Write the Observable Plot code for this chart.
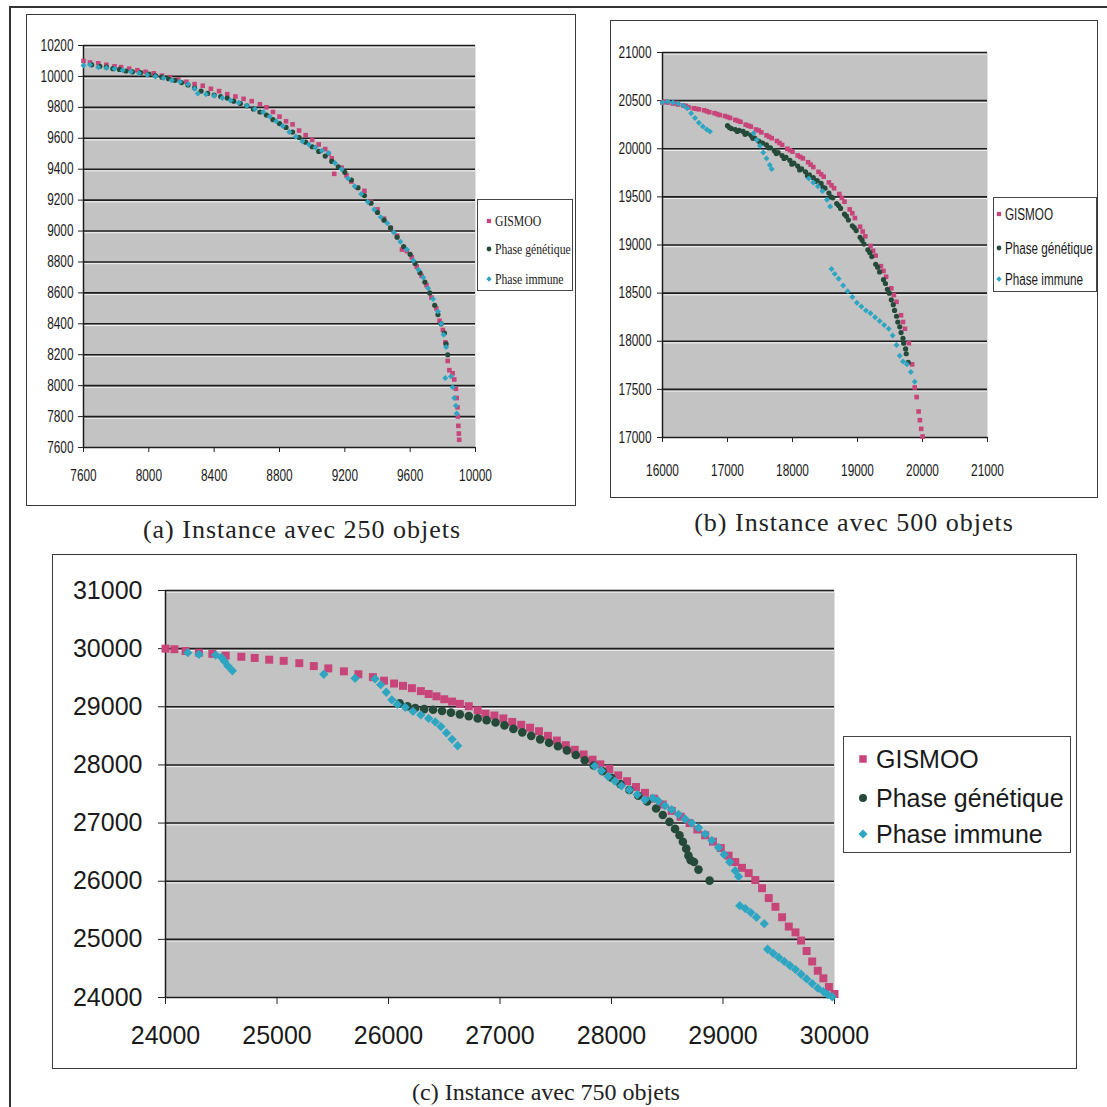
<!DOCTYPE html>
<html><head><meta charset="utf-8">
<script src="https://cdn.jsdelivr.net/npm/d3@7"></script>
<script src="https://cdn.jsdelivr.net/npm/@observablehq/plot@0.6"></script>
<style>
body{margin:0;background:#fff;width:1107px;height:1107px;position:relative;overflow:hidden;}
.frame{position:absolute;left:9px;top:6px;width:1300px;height:1300px;border-left:2px solid #333;border-top:2px solid #333;}
.box{position:absolute;border:1.5px solid #3a3a3a;box-sizing:border-box;}
.plotwrap{position:absolute;}
.legend{position:absolute;border:1px solid #444;box-sizing:border-box;background:#fff;}
.item{position:absolute;left:0;right:0;white-space:nowrap;}
.item svg{position:absolute;}
.item span{position:absolute;display:inline-block;transform-origin:left center;color:#1a1a1a;}
.cap{position:absolute;text-align:center;white-space:nowrap;font-family:"Liberation Serif","Times New Roman",serif;color:#222;}
</style></head><body>
<div class="frame"></div>
<div id="root"></div>
<script>
// ---------- data ----------
const seriesNames = ["GISMOO", "Phase génétique", "Phase immune"];
const seriesColors = ["#c8457a", "#254a3a", "#2ea6c2"];
const seriesSymbols = [d3.symbolSquare, d3.symbolCircle, d3.symbolDiamond2];
const captions = ["(a) Instance avec 250 objets", "(b) Instance avec 500 objets", "(c) Instance avec 750 objets"];

const aXTicks = [7600, 8000, 8400, 8800, 9200, 9600, 10000];
const aYTicks = [7600, 7800, 8000, 8200, 8400, 8600, 8800, 9000, 9200, 9400, 9600, 9800, 10000, 10200];
const bXTicks = [16000, 17000, 18000, 19000, 20000, 21000];
const bYTicks = [17000, 17500, 18000, 18500, 19000, 19500, 20000, 20500, 21000];
const cXTicks = [24000, 25000, 26000, 27000, 28000, 29000, 30000];
const cYTicks = [24000, 25000, 26000, 27000, 28000, 29000, 30000, 31000];

const aGismoo = [[7600,10100],[7640,10090],[7690,10085],[7740,10075],[7790,10065],[7830,10060],[7880,10050],[7930,10040],[7980,10030],[8030,10020],[8080,10005],[8130,9995],[8180,9980],[8230,9965],[8280,9950],[8330,9940],[8380,9920],[8430,9905],[8480,9885],[8530,9870],[8580,9855],[8630,9840],[8680,9820],[8720,9800],[8760,9770],[8800,9740],[8840,9710],[8880,9690],[8920,9650],[8960,9620],[9000,9590],[9040,9560],[9080,9530],[9100,9500],[9120,9470],[9135,9370],[9180,9410],[9210,9360],[9240,9320],[9280,9280],[9320,9260],[9360,9190],[9400,9140],[9440,9080],[9480,9020],[9520,8970],[9550,8880],[9580,8870],[9610,8830],[9640,8770],[9670,8710],[9700,8650],[9730,8570],[9760,8500],[9780,8420],[9800,8360],[9815,8280],[9830,8160],[9840,8100],[9860,8080],[9870,8040],[9880,7980],[9885,7920],[9890,7860],[9892,7800],[9895,7740],[9898,7690],[9900,7650]];
const aGenetique = [[7650,10075],[7700,10065],[7740,10060],[7780,10050],[7820,10045],[7860,10035],[7900,10030],[7950,10025],[8000,10015],[8040,10005],[8080,9995],[8120,9985],[8160,9975],[8200,9960],[8240,9945],[8280,9925],[8320,9905],[8360,9890],[8400,9880],[8440,9870],[8480,9860],[8520,9840],[8560,9825],[8600,9810],[8640,9790],[8680,9770],[8720,9750],[8760,9720],[8800,9695],[8840,9670],[8880,9640],[8920,9605],[8960,9575],[9000,9545],[9040,9515],[9080,9485],[9120,9450],[9160,9415],[9200,9380],[9240,9330],[9280,9280],[9320,9230],[9360,9180],[9400,9120],[9440,9070],[9480,9020],[9520,8960],[9560,8900],[9600,8850],[9630,8790],[9660,8730],[9690,8670],[9720,8600],[9750,8520],[9770,8460],[9790,8400],[9810,8340],[9820,8270],[9830,8200]];
const aImmune = [[7600,10070],[7640,10075],[7690,10060],[7740,10055],[7790,10050],[7840,10040],[7890,10030],[7940,10020],[7990,10010],[8040,10000],[8090,9990],[8140,9975],[8190,9965],[8240,9950],[8280,9920],[8300,9890],[8350,9885],[8400,9875],[8450,9860],[8500,9845],[8550,9830],[8600,9810],[8650,9790],[8700,9770],[8740,9740],[8780,9710],[8820,9680],[8860,9640],[8900,9610],[8940,9580],[8980,9560],[9020,9540],[9060,9520],[9100,9505],[9140,9440],[9180,9400],[9220,9340],[9260,9290],[9300,9240],[9340,9190],[9380,9140],[9420,9090],[9460,9050],[9500,8990],[9540,8930],[9580,8880],[9620,8810],[9650,8750],[9680,8700],[9710,8630],[9740,8560],[9770,8480],[9790,8400],[9805,8330],[9820,8250],[9815,8050],[9850,8060],[9860,7990],[9870,7920],[9880,7870],[9885,7820]];

const bGismoo = [[16000,20480],[16040,20490],[16080,20480],[16160,20470],[16200,20475],[16240,20460],[16320,20450],[16360,20445],[16400,20430],[16480,20420],[16520,20415],[16560,20410],[16640,20400],[16680,20390],[16720,20380],[16800,20370],[16840,20360],[16880,20350],[16960,20340],[17000,20330],[17040,20320],[17120,20300],[17160,20290],[17200,20280],[17280,20250],[17320,20240],[17360,20230],[17440,20200],[17480,20190],[17520,20170],[17600,20140],[17640,20125],[17680,20110],[17760,20080],[17800,20060],[17840,20040],[17920,20000],[17960,19985],[18000,19970],[18080,19930],[18120,19915],[18160,19900],[18240,19860],[18280,19835],[18320,19810],[18400,19760],[18440,19735],[18480,19710],[18560,19650],[18600,19620],[18640,19590],[18720,19530],[18760,19490],[18800,19450],[18880,19370],[18920,19330],[18960,19280],[19040,19190],[19080,19140],[19120,19090],[19200,18990],[19240,18940],[19280,18890],[19360,18780],[19400,18730],[19440,18670],[19520,18550],[19560,18480],[19600,18410],[19670,18270],[19700,18200],[19730,18130],[19790,17980],[19840,17760],[19880,17520],[19910,17420],[19940,17270],[19960,17180],[19980,17090],[20000,17010]];
const bGenetique = [[17000,20240],[17030,20220],[17060,20210],[17120,20200],[17150,20180],[17180,20190],[17240,20180],[17270,20150],[17300,20160],[17360,20140],[17390,20110],[17420,20110],[17480,20080],[17510,20060],[17540,20060],[17600,20040],[17630,20010],[17660,20010],[17720,19980],[17750,19950],[17780,19960],[17840,19930],[17870,19900],[17900,19910],[17960,19880],[17990,19840],[18020,19850],[18080,19820],[18110,19780],[18140,19790],[18200,19760],[18230,19720],[18260,19730],[18320,19700],[18350,19660],[18380,19670],[18440,19640],[18470,19600],[18500,19590],[18560,19540],[18590,19500],[18620,19490],[18680,19430],[18710,19410],[18740,19380],[18800,19320],[18830,19300],[18860,19260],[18920,19200],[18950,19180],[18980,19150],[19040,19080],[19070,19050],[19100,19010],[19160,18950],[19190,18920],[19220,18880],[19280,18800],[19310,18770],[19340,18720],[19400,18640],[19430,18600],[19460,18540],[19490,18500],[19520,18430],[19550,18380],[19570,18320],[19600,18260],[19620,18200],[19650,18150],[19670,18090],[19700,18030],[19710,17980],[19740,17920],[19750,17870],[19780,17780]];
const bImmune = [[16000,20480],[16080,20490],[16160,20480],[16240,20470],[16320,20450],[16380,20420],[16440,20370],[16500,20320],[16560,20270],[16620,20230],[16680,20200],[16730,20180],[17400,20160],[17450,20090],[17500,20030],[17550,19960],[17600,19900],[17650,19830],[17680,19790],[18250,19690],[18320,19650],[18390,19610],[18460,19560],[18530,19470],[18580,19400],[18600,18750],[18650,18700],[18710,18650],[18780,18580],[18850,18520],[18920,18460],[18990,18400],[19060,18360],[19130,18320],[19200,18290],[19270,18250],[19340,18210],[19410,18170],[19480,18130],[19540,18060],[19600,17960],[19650,17850],[19700,17790],[19760,17760],[19820,17680],[19880,17580]];

const cGismoo = [[24000,30000],[24080,29990],[24180,29960],[24300,29930],[24420,29910],[24540,29880],[24680,29860],[24800,29840],[24930,29810],[25060,29790],[25200,29750],[25330,29700],[25460,29660],[25600,29610],[25730,29560],[25860,29510],[25960,29450],[26050,29400],[26130,29360],[26210,29320],[26290,29270],[26360,29220],[26430,29180],[26500,29130],[26570,29090],[26640,29050],[26720,29010],[26800,28940],[26870,28880],[26950,28850],[27030,28800],[27110,28740],[27190,28690],[27270,28640],[27350,28580],[27430,28500],[27510,28420],[27590,28340],[27670,28260],[27750,28180],[27830,28090],[27900,28010],[27980,27930],[28060,27820],[28140,27720],[28220,27620],[28300,27520],[28380,27420],[28460,27320],[28540,27210],[28620,27110],[28700,27000],[28770,26890],[28840,26790],[28910,26680],[28980,26570],[29050,26440],[29110,26330],[29170,26230],[29230,26140],[29290,26020],[29350,25880],[29410,25710],[29470,25560],[29530,25380],[29590,25220],[29650,25120],[29700,24980],[29750,24800],[29800,24620],[29850,24460],[29900,24330],[29950,24180],[30000,24060]];
const cGenetique = [[26100,29060],[26170,29010],[26240,28980],[26320,28960],[26400,28950],[26480,28930],[26560,28900],[26640,28870],[26720,28840],[26800,28800],[26880,28770],[26960,28730],[27040,28680],[27120,28620],[27200,28560],[27280,28500],[27360,28440],[27440,28380],[27520,28320],[27600,28250],[27680,28170],[27760,28080],[27840,27990],[27920,27890],[28000,27780],[28080,27670],[28160,27570],[28240,27470],[28320,27370],[28400,27250],[28460,27140],[28520,27020],[28570,26900],[28610,26790],[28640,26680],[28670,26560],[28690,26440],[28710,26360],[28740,26330],[28780,26200],[28880,26010]];
const cImmune = [[24200,29930],[24300,29900],[24450,29890],[24500,29850],[24530,29780],[24560,29700],[24600,29620],[25420,29560],[25700,29490],[25880,29480],[25930,29380],[25980,29250],[26030,29120],[26080,29040],[26150,28990],[26220,28920],[26290,28860],[26360,28800],[26420,28740],[26470,28660],[26520,28550],[26570,28440],[26620,28330],[27850,27980],[27910,27900],[27970,27800],[28030,27720],[28090,27640],[28160,27570],[28230,27490],[28300,27400],[28370,27430],[28420,27380],[28480,27300],[28540,27230],[28600,27150],[28660,27070],[28720,27000],[28780,26920],[28840,26810],[28900,26700],[28960,26580],[29010,26460],[29060,26330],[29110,26180],[29140,26080],[29150,25580],[29200,25530],[29250,25460],[29300,25380],[29370,25270],[29400,24830],[29450,24760],[29500,24690],[29550,24620],[29600,24550],[29650,24480],[29700,24400],[29750,24320],[29800,24240],[29850,24160],[29900,24100],[29940,24050],[29980,24010]];

// ---------- layout ----------
const panels = [
  {left:26, top:14, width:550, height:492, mt:31, mr:101, mb:59, ml:57,
   xt:aXTicks, yt:aYTicks, data:[aGismoo,aGenetique,aImmune], r:[2.6,2.6,2.7],
   font:16, squeeze:0.74, tick:5, xPad:17, yPad:5,
   legend:{left:477, top:199, w:96, h:92, rows:[220,248,278], mx:488, tx:494, family:'"Liberation Serif","Times New Roman",serif', size:15, sx:0.78, ms:[18,18,18]},
   cap:{cx:302, cy:530, size:26, ls:1}},
  {left:610, top:20, width:488, height:478, mt:32, mr:111, mb:61, ml:52,
   xt:bXTicks, yt:bYTicks, data:[bGismoo,bGenetique,bImmune], r:[2.6,2.6,2.7],
   font:16, squeeze:0.74, tick:5, xPad:22, yPad:6,
   legend:{left:993, top:197, w:104, h:95, rows:[213,247,278], mx:998, tx:1004, family:'"Liberation Sans",Arial,sans-serif', size:16, sx:0.73, ms:[18,18,18]},
   cap:{cx:854, cy:523, size:26, ls:1}},
  {left:52, top:554, width:1025, height:515, mt:36, mr:243, mb:72, ml:113,
   xt:cXTicks, yt:cYTicks, data:[cGismoo,cGenetique,cImmune], r:[4.5,4.3,4.2],
   font:25, squeeze:1, tick:7, xPad:22, yPad:16,
   legend:{left:843, top:736, w:228, h:117, rows:[758,797,833], mx:862, tx:875, family:'"Liberation Sans",Arial,sans-serif', size:25, sx:1, ms:[56,50,52]},
   cap:{cx:546, cy:1092, size:24, ls:0}}
];

const root = document.getElementById("root");
const toRows = pairs => pairs.map(([x, y]) => ({x, y}));

function squeeze(svg, k) {
  if (k === 1) return;
  svg.querySelectorAll('g[aria-label="x-axis tick label"] text, g[aria-label="y-axis tick label"] text').forEach(t => {
    const L = t.getComputedTextLength();
    t.setAttribute("textLength", (L * k).toFixed(1));
    t.setAttribute("lengthAdjust", "spacingAndGlyphs");
  });
}

panels.forEach((p, pi) => {
  const box = document.createElement("div");
  box.className = "box";
  Object.assign(box.style, {left: p.left + "px", top: p.top + "px", width: p.width + "px", height: p.height + "px"});
  root.appendChild(box);

  const xd = [p.xt[0], p.xt[p.xt.length - 1]];
  const yd = [p.yt[0], p.yt[p.yt.length - 1]];
  const dots = p.data.map((s, i) => Plot.dot(toRows(s), {
    x: "x", y: "y", symbol: seriesSymbols[i], fill: seriesColors[i], r: p.r[i], stroke: "none"
  }));
  const chart = Plot.plot({
    width: p.width, height: p.height,
    marginTop: p.mt, marginRight: p.mr, marginBottom: p.mb, marginLeft: p.ml,
    x: {domain: xd},
    y: {domain: yd},
    style: {fontFamily: '"Liberation Sans", Arial, sans-serif', fontSize: p.font + "px", color: "#1a1a1a", background: "transparent", overflow: "visible", maxWidth: "none"},
    marks: [
      Plot.frame({fill: "#c3c3c3", stroke: null}),
      Plot.ruleY(p.yt.slice(1), {stroke: "#f2f2f2", strokeWidth: 1, dy: 1.7}),
      Plot.ruleY(p.yt.slice(1), {stroke: "#1c1c1c", strokeWidth: 1.6}),
      Plot.ruleX([xd[0]], {stroke: "#1c1c1c", strokeWidth: 1.5}),
      Plot.ruleY([yd[0]], {stroke: "#1c1c1c", strokeWidth: 1.5}),
      Plot.axisX({ticks: p.xt, tickSize: p.tick, tickPadding: p.xPad, tickFormat: d => String(d), label: null, fontSize: p.font, stroke: "#222"}),
      Plot.axisY({ticks: p.yt, tickSize: p.tick, tickPadding: p.yPad, tickFormat: d => String(d), label: null, fontSize: p.font, stroke: "#222"}),
      ...dots
    ]
  });
  const wrap = document.createElement("div");
  wrap.className = "plotwrap";
  Object.assign(wrap.style, {left: p.left + "px", top: p.top + "px"});
  wrap.appendChild(chart);
  root.appendChild(wrap);
  squeeze(chart, p.squeeze);

  // legend
  const L = p.legend;
  const lg = document.createElement("div");
  lg.className = "legend";
  Object.assign(lg.style, {left: L.left + "px", top: L.top + "px", width: L.w + "px", height: L.h + "px"});
  seriesNames.forEach((name, i) => {
    const row = document.createElement("div");
    row.className = "item";
    const lh = Math.round(L.size * 1.3);
    row.style.top = (L.rows[i] - L.top - lh / 2) + "px";
    row.style.height = lh + "px";
    const path = d3.symbol(seriesSymbols[i], L.ms[i])();
    const s = 14;
    row.innerHTML = `<svg width="${s}" height="${s}" style="left:${L.mx - L.left - s / 2}px;top:${(lh - s) / 2}px"><path d="${path}" transform="translate(${s / 2},${s / 2})" fill="${seriesColors[i]}"/></svg>` +
      `<span style="left:${L.tx - L.left}px;top:0;line-height:${lh}px;font-family:${L.family.replace(/"/g, "'")};font-size:${L.size}px;transform:scaleX(${L.sx})">${name}</span>`;
    lg.appendChild(row);
  });
  root.appendChild(lg);

  // caption
  const C = p.cap;
  const cap = document.createElement("div");
  cap.className = "cap";
  cap.textContent = captions[pi];
  Object.assign(cap.style, {left: (C.cx - 400) + "px", width: "800px", top: (C.cy - C.size * 0.6) + "px", fontSize: C.size + "px", lineHeight: (C.size * 1.2) + "px", letterSpacing: C.ls + "px"});
  root.appendChild(cap);
});
</script>
</body></html>
